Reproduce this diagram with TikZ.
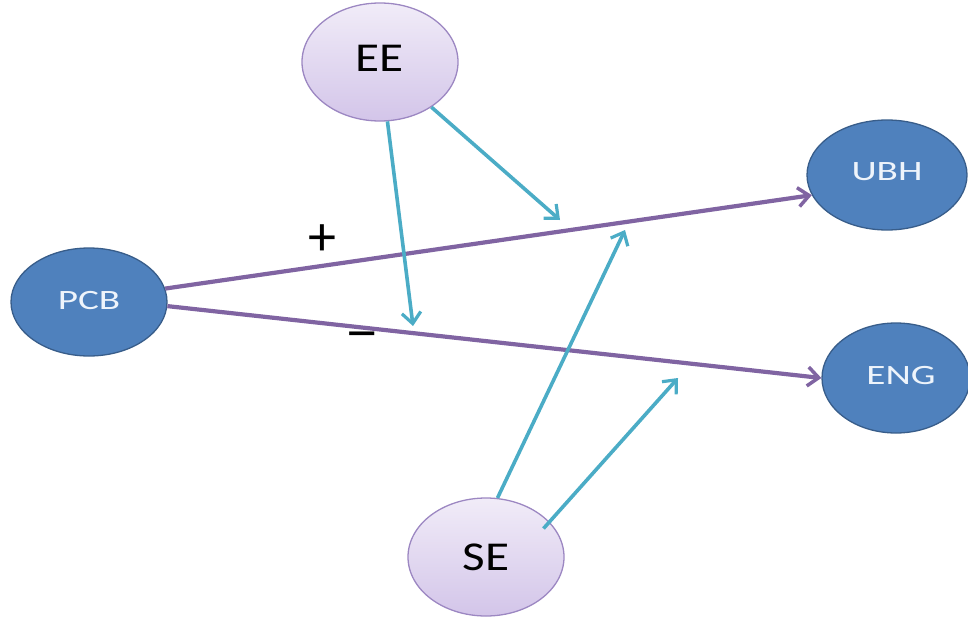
\documentclass[tikz,border=0pt]{standalone}
\usepackage{fontspec}
\setmainfont{Carlito}
\usetikzlibrary{shapes.geometric,arrows.meta}
\definecolor{lavtop}{HTML}{F1ECF8}
\definecolor{lavbot}{HTML}{D3C5E9}
\definecolor{lavline}{HTML}{9C87C2}
\definecolor{bluefill}{HTML}{4F81BD}
\definecolor{blueline}{HTML}{385D8A}
\definecolor{purpline}{HTML}{8064A2}
\definecolor{tealline}{HTML}{4BACC6}
\definecolor{bluetext}{HTML}{EEF4FB}
\newcommand{\widetext}[2]{\scalebox{#1}[1]{#2}}
\tikzset{
  lavnode/.style={ellipse, draw=lavline, line width=1.3pt, top color=lavtop, bottom color=lavbot,
    minimum width=156pt, minimum height=118pt, inner sep=0pt,
    font=\fontsize{41}{42}\selectfont, text=black},
  bluenode/.style={ellipse, draw=blueline, line width=1.3pt, fill=bluefill,
    minimum width=156pt, minimum height=108pt, inner sep=0pt,
    font=\fontsize{28}{30}\selectfont, text=bluetext},
  purparrow/.style={draw=purpline, line width=4.2pt, -{Straight Barb[length=11pt,width=19pt,line width=3.5pt]}},
  tealarrow/.style={draw=tealline, line width=3.6pt, -{Straight Barb[length=11pt,width=19pt,line width=3.2pt]}},
  signlabel/.style={font=\fontsize{56}{56}\selectfont, text=black, inner sep=0pt}
}
\begin{document}
\begin{tikzpicture}[x=1pt,y=-1pt]
\useasboundingbox (0,0) rectangle (968,621);
\node[lavnode] (EE) at (380,62) {\raisebox{8pt}{\widetext{1.2}{EE}}};
\node[lavnode] (SE) at (486,557) {\widetext{1.2}{SE}};
\node[bluenode] (PCB) at (89,302) {\raisebox{4pt}{\widetext{1.4}{PCB}}};
\node[bluenode, minimum width=160pt, minimum height=110pt] (UBH) at (887,175) {\raisebox{7pt}{\widetext{1.4}{UBH}}};
\node[bluenode, minimum width=148pt, minimum height=110pt] (ENG) at (896,378) {\raisebox{5pt}{\hspace*{10pt}\widetext{1.4}{ENG}}};
\coordinate (m1) at (413,326);
\coordinate (m2) at (560,220);
\coordinate (m3) at (625,230);
\coordinate (m4) at (678,378);
\draw[purparrow] (PCB.10) -- (UBH.195);
\draw[purparrow] (PCB.-3) -- (ENG.180);
\draw[tealarrow] (EE) -- (m1);
\draw[tealarrow] (EE) -- (m2);
\draw[tealarrow] (SE.79) -- (m3);
\draw[tealarrow, shorten <=-9pt] (SE.29) -- (m4);
\node[signlabel] (plus) at (322,240) {+};
\node[signlabel] (minus) at (362,342) {\widetext{1.2}{−}};
\end{tikzpicture}
\end{document}
